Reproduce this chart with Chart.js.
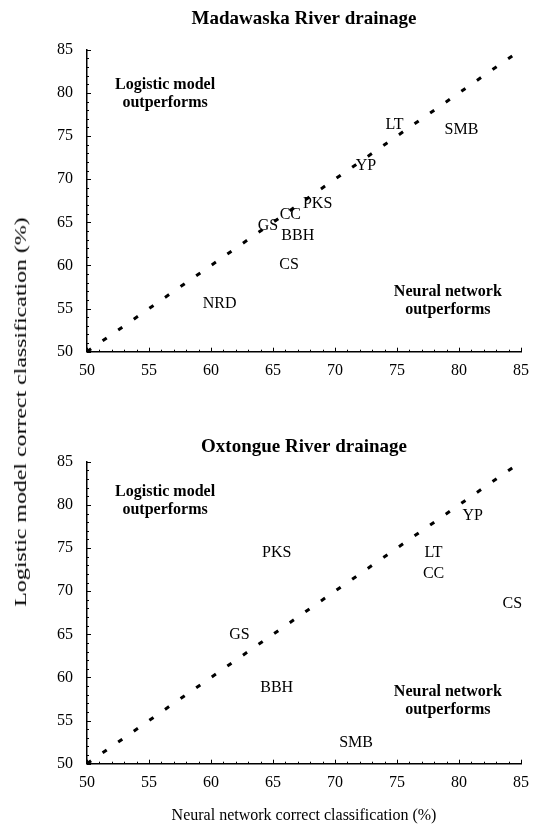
<!DOCTYPE html>
<html><head><meta charset="utf-8">
<script src="https://cdn.jsdelivr.net/npm/chart.js@4/dist/chart.umd.min.js"></script>
<style>
html,body{margin:0;padding:0;background:#fff;}
#wrap{position:relative;width:538px;height:824px;overflow:hidden;background:#fff;}
.panel{position:absolute;left:0;width:538px;height:412px;}
#ytitle{position:absolute;left:21px;top:412px;transform:translate(-50%,-50%) rotate(-90deg) scaleX(1.49);white-space:nowrap;font:16px "Liberation Serif",serif;color:#000;}
</style></head><body>
<div id="wrap">
<div class="panel" style="top:0"><canvas id="c1" width="538" height="412"></canvas></div>
<div class="panel" style="top:412px"><canvas id="c2" width="538" height="412"></canvas></div>
<div id="ytitle">Logistic model correct classification (%)</div>
</div>
<script>
// ---- data ----
const axisTicks = [50, 55, 60, 65, 70, 75, 80, 85];
const oneToOne = [50, 85];

const madSpecies  = ['LT', 'SMB', 'YP', 'PKS', 'CC', 'GS', 'BBH', 'CS', 'NRD'];
const madNeural   = [74.8, 80.2, 72.5, 68.6, 66.4, 64.6, 67.0, 66.3, 60.7];
const madLogistic = [76.3, 75.7, 71.5, 67.1, 65.9, 64.6, 63.4, 60.1, 55.5];

const oxtSpecies  = ['YP', 'PKS', 'LT', 'CC', 'CS', 'GS', 'BBH', 'SMB'];
const oxtNeural   = [81.1, 65.3, 77.95, 77.95, 84.3, 62.3, 65.3, 71.7];
const oxtLogistic = [78.7, 74.4, 74.4, 72.0, 68.5, 64.9, 58.8, 52.4];

// ---- rendering ----
const SERIF = "'Liberation Serif', 'Times New Roman', serif";

const labelPlugin = {
  id: 'speciesLabels',
  afterDatasetsDraw(chart, args, opts) {
    const ctx = chart.ctx;
    const ds = chart.data.datasets[1];
    const meta = chart.getDatasetMeta(1);
    ctx.save();
    ctx.fillStyle = '#000';
    ctx.font = '16px ' + SERIF;
    ctx.textAlign = 'center';
    ctx.textBaseline = 'middle';
    meta.data.forEach((pt, i) => ctx.fillText(ds.names[i], pt.x, pt.y));
    ctx.font = 'bold 16px ' + SERIF;
    const sx = chart.scales.x, sy = chart.scales.y;
    (opts.notes || []).forEach(n => {
      const px = sx.getPixelForValue(n.x), py = sy.getPixelForValue(n.y);
      n.lines.forEach((t, k) => ctx.fillText(t, px, py + (k - (n.lines.length - 1) / 2) * 18));
    });
    ctx.restore();
  }
};

const tickPlugin = {
  id: 'inwardTicks',
  afterDraw(chart) {
    const ctx = chart.ctx, a = chart.chartArea;
    const sx = chart.scales.x, sy = chart.scales.y;
    ctx.save();
    ctx.strokeStyle = '#000';
    ctx.lineWidth = 1;
    ctx.beginPath();
    for (let v = sx.min; v <= sx.max; v++) {
      const px = Math.round(sx.getPixelForValue(v)) + 0.5;
      const len = v % 5 === 0 ? 4 : 2;
      ctx.moveTo(px, a.bottom); ctx.lineTo(px, a.bottom - len);
    }
    for (let v = sy.min; v <= sy.max; v++) {
      const py = Math.round(sy.getPixelForValue(v)) + 0.5;
      const len = v % 5 === 0 ? 4 : 2;
      ctx.moveTo(a.left, py); ctx.lineTo(a.left + len, py);
    }
    ctx.stroke();
    ctx.restore();
  }
};

function makeChart(id, title, titlePad, names, xs, ys, notes, xTitle) {
  return new Chart(document.getElementById(id), {
    type: 'scatter',
    data: {
      datasets: [
        {
          data: oneToOne.map(v => ({x: v, y: v})),
          showLine: true,
          borderColor: '#000',
          borderWidth: 3,
          borderDash: [5, 14],
          borderCapStyle: 'butt',
          pointRadius: 0,
          fill: false
        },
        {
          names: names,
          data: xs.map((v, i) => ({x: v, y: ys[i]})),
          pointRadius: 0,
          showLine: false
        }
      ]
    },
    options: {
      responsive: false,
      animation: false,
      layout: {padding: {left: 0, right: 7, top: 0, bottom: 0}},
      plugins: {
        legend: {display: false},
        tooltip: {enabled: false},
        title: {
          display: true,
          text: title,
          fullSize: false,
          color: '#000',
          font: {family: SERIF, size: 19, weight: 'bold', lineHeight: 1.2},
          padding: titlePad
        },
        speciesLabels: {notes: notes}
      },
      scales: {
        x: {
          type: 'linear', min: 50, max: 85,
          afterBuildTicks: s => { s.ticks = axisTicks.map(v => ({value: v})); },
          afterFit: s => { s.height = 60.3; },
          grid: {display: false, drawTicks: false},
          border: {display: true, color: '#000', width: 1.5},
          ticks: {color: '#000', font: {family: SERIF, size: 16}, padding: 9, maxRotation: 0, autoSkip: false},
          title: {
            display: !!xTitle, text: xTitle || '', color: '#000',
            font: {family: SERIF, size: 16, lineHeight: 1}, padding: {top: 0, bottom: 0}
          }
        },
        y: {
          type: 'linear', min: 50, max: 85,
          afterBuildTicks: s => { s.ticks = axisTicks.map(v => ({value: v})); },
          afterFit: s => { s.width = 87; },
          grid: {display: false, drawTicks: false},
          border: {display: true, color: '#000', width: 1.5},
          ticks: {color: '#000', font: {family: SERIF, size: 16}, padding: 14, autoSkip: false}
        }
      }
    },
    plugins: [labelPlugin, tickPlugin]
  });
}

makeChart('c1', 'Madawaska River drainage', {top: 8, bottom: 19},
  madSpecies, madNeural, madLogistic,
  [{x: 56.3, y: 79.85, lines: ['Logistic model', 'outperforms']},
   {x: 79.1, y: 55.85, lines: ['Neural network', 'outperforms']}],
  null);

makeChart('c2', 'Oxtongue River drainage', {top: 23.6, bottom: 3.4},
  oxtSpecies, oxtNeural, oxtLogistic,
  [{x: 56.3, y: 80.45, lines: ['Logistic model', 'outperforms']},
   {x: 79.1, y: 57.3, lines: ['Neural network', 'outperforms']}],
  'Neural network correct classification (%)');
</script>
</body></html>
